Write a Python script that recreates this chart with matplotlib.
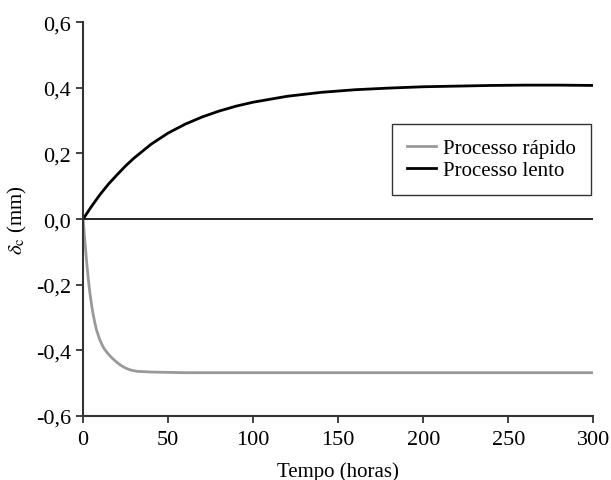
import matplotlib
matplotlib.use("Agg")
import matplotlib.pyplot as plt
from matplotlib.ticker import FuncFormatter

plt.rcParams['font.family'] = ['Liberation Serif', 'DejaVu Serif']
plt.rcParams['mathtext.fontset'] = 'stix'

# Deslocamento ao longo do tempo
t_rapido = [0, 1, 2, 3, 4, 5, 6, 7, 8, 10, 12, 14, 16, 18, 20, 22, 25, 28, 32, 40, 50, 60,
            100, 150, 200, 250, 300]
d_rapido = [0, -0.065, -0.125, -0.18, -0.225, -0.262, -0.293, -0.318, -0.34, -0.37, -0.392,
            -0.406, -0.418, -0.428, -0.437, -0.445, -0.454, -0.460, -0.464, -0.466, -0.467,
            -0.468, -0.468, -0.468, -0.468, -0.468, -0.468]

t_lento = [0, 5, 10, 15, 20, 25, 30, 40, 50, 60, 70, 80, 90, 100, 120, 140, 160, 180,
           200, 220, 240, 260, 280, 300]
d_lento = [0, 0.039, 0.075, 0.107, 0.135, 0.162, 0.186, 0.228, 0.262, 0.289, 0.311, 0.329,
           0.344, 0.356, 0.374, 0.386, 0.394, 0.399, 0.403, 0.405, 0.407, 0.408, 0.408, 0.407]

xticks = [0, 50, 100, 150, 200, 250, 300]
yticks = [-0.6, -0.4, -0.2, 0.0, 0.2, 0.4, 0.6]

fig = plt.figure(figsize=(6.11, 4.81), dpi=100)
ax = fig.add_axes([0.136, 0.133, 0.835, 0.819])

ax.axhline(0, color='black', lw=1.2, zorder=1)
ax.plot(t_rapido, d_rapido, color='#999999', lw=2.0, label='Processo rápido')
ax.plot(t_lento, d_lento, color='black', lw=2.0, label='Processo lento')

ax.set_xlim(0, 300)
ax.set_ylim(-0.6, 0.6)
ax.set_xticks(xticks)
ax.set_yticks(yticks)
ax.yaxis.set_major_formatter(FuncFormatter(lambda v, p: f"{v:.1f}".replace('.', ',')))

for s in ['top', 'right']:
    ax.spines[s].set_visible(False)
for s in ['left', 'bottom']:
    ax.spines[s].set_linewidth(1.5)
    ax.spines[s].set_color('#333333')
ax.tick_params(direction='out', length=5, width=1.3, color='#333333', labelsize=16)
ax.tick_params(axis='x', pad=5)

ax.set_xlabel('Tempo (horas)', fontsize=15, labelpad=9)
ax.set_ylabel(r'$\delta_{\rm c}$ (mm)', fontsize=15, labelpad=5)

leg = ax.legend(loc='upper left', bbox_to_anchor=(0.606, 0.741), fontsize=15,
                frameon=True, fancybox=False, edgecolor='black', handlelength=1.4,
                borderpad=0.7, handletextpad=0.35, labelspacing=0.1, borderaxespad=0)
leg.get_frame().set_linewidth(1.0)

fig.savefig('out.png', dpi=100)
